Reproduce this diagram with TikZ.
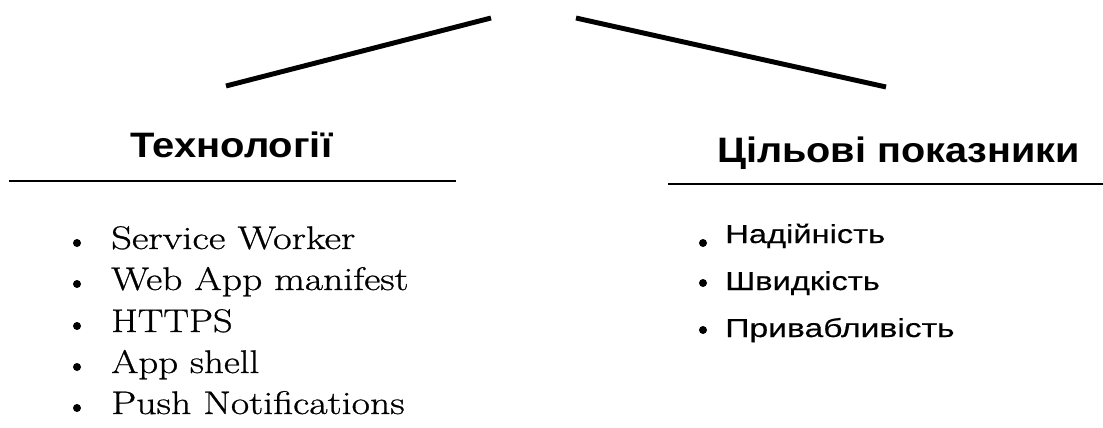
\documentclass[tikz,border=0pt]{standalone}
\usepackage{fontspec}
\usepackage{graphicx}
\newfontfamily\arialfont{Liberation Sans}
\newfontfamily\serifdark{Latin Modern Roman}[FakeBold=0.7]
\newfontfamily\arialdark{Liberation Sans}[FakeBold=0.35]
\newcommand\fitw[2]{\resizebox{#1}{\height}{#2}}
\begin{document}
\begin{tikzpicture}[x=0.75pt,y=-0.75pt,
  heading/.style={anchor=base west,inner sep=0pt,font=\arialfont\bfseries\fontsize{26.5}{30}\selectfont},
  leftitem/.style={anchor=base west,inner sep=0pt,font=\serifdark\fontsize{24.5}{28}\selectfont},
  rightitem/.style={anchor=base west,inner sep=0pt,font=\arialdark\fontsize{19.5}{23}\selectfont},
  dot/.style={circle,fill=black,inner sep=0pt,minimum size=6pt},
  thickline/.style={line width=3.7pt},
  rule/.style={line width=2.2pt}]
\useasboundingbox (0,0) rectangle (1103,428);
% top lines
\coordinate (l1) at (226,86);
\coordinate (l2) at (491,18);
\coordinate (r1) at (576,18);
\coordinate (r2) at (886,87);
\draw[thickline] (l1) -- (l2);
\draw[thickline] (r1) -- (r2);
% headings
\node[heading] (htech) at (130,157) {\fitw{151.5pt}{Технології}};
\node[heading] (hgoal) at (717,162) {\fitw{272pt}{Цільові показники}};
% rules
\coordinate (ra) at (9,181);
\coordinate (rb) at (456,181);
\coordinate (rc) at (668,184);
\coordinate (rd) at (1103,184);
\draw[rule] (ra) -- (rb);
\draw[rule] (rc) -- (rd);
% left list
\node[dot] (lb1) at (77,243) {};
\node[dot] (lb2) at (77,284) {};
\node[dot] (lb3) at (77,326) {};
\node[dot] (lb4) at (77,367) {};
\node[dot] (lb5) at (77,408) {};
\node[leftitem] (li1) at (111,249) {\fitw{183pt}{Service Worker}};
\node[leftitem] (li2) at (111,290) {\fitw{223pt}{Web App manifest}};
\node[leftitem] (li3) at (111,332) {\fitw{91pt}{HTTPS}};
\node[leftitem] (li4) at (111,373) {\fitw{111pt}{App shell}};
\node[leftitem] (li5) at (111,414) {\fitw{220pt}{Push Notifications}};
% right list
\node[dot] (rb1) at (703,243) {};
\node[dot] (rb2) at (703,283) {};
\node[dot] (rb3) at (703,330) {};
\node[rightitem] (ri1) at (725,243) {\fitw{120pt}{Надійність}};
\node[rightitem] (ri2) at (725,290) {\fitw{116pt}{Швидкість}};
\node[rightitem] (ri3) at (725,337) {\fitw{172pt}{Привабливість}};
\end{tikzpicture}
\end{document}
